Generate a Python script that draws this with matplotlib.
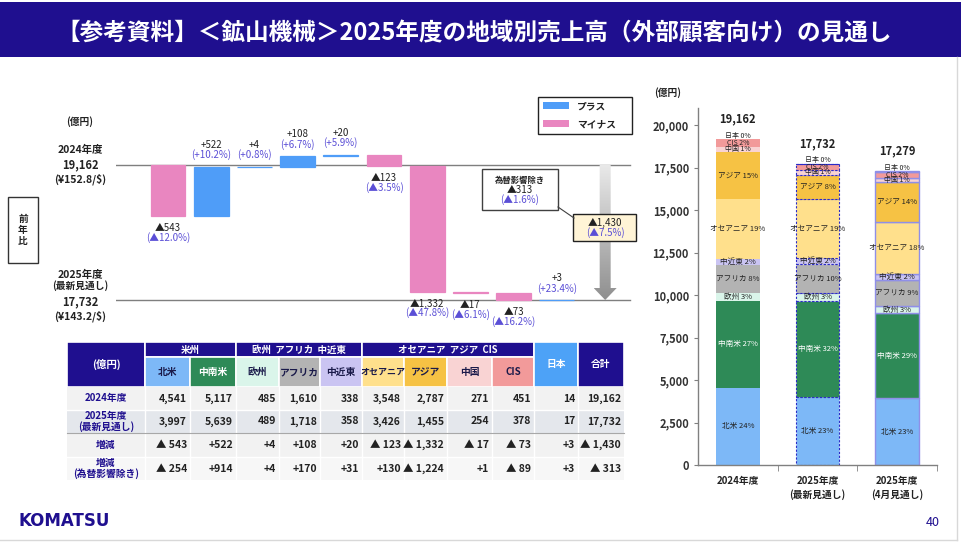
import numpy as np
import matplotlib
matplotlib.use('Agg')
import matplotlib.pyplot as plt
from matplotlib.patches import Rectangle, Polygon
from matplotlib.colors import LinearSegmentedColormap

plt.rcParams['font.family'] = ['Noto Sans CJK JP', 'DejaVu Sans']

# ---------------- data ----------------
regions = ['北米', '中南米', '欧州', 'アフリカ', '中近東', 'オセアニア', 'アジア', '中国', 'CIS', '日本']
group_names = ['米州', '欧州  アフリカ  中近東', 'オセアニア  アジア  CIS']
fy2024 = [4541, 5117, 485, 1610, 338, 3548, 2787, 271, 451, 14]
fy2025_latest = [3997, 5639, 489, 1718, 358, 3426, 1455, 254, 378, 17]
fy2025_april = [3940, 4990, 440, 1540, 330, 3040, 2380, 240, 360, 19]
diff = [-543, 522, 4, 108, 20, -123, -1332, -17, -73, 3]
diff_pct = [-12.0, 10.2, 0.8, 6.7, 5.9, -3.5, -47.8, -6.1, -16.2, 23.4]
diff_exfx = [-254, 914, 4, 170, 31, 130, -1224, 1, -89, 3]
total_2024 = 19162
total_2025 = 17732
total_april = 17279
total_diff = -1430
total_diff_pct = -7.5
total_diff_exfx = -313
total_diff_exfx_pct = -1.6
rate_2024 = '(¥152.8/$)'
rate_2025 = '(¥143.2/$)'
bar_categories = ['2024年度', '2025年度\n(最新見通し)', '2025年度\n(4月見通し)']
row_labels = ['2024年度', '2025年度\n(最新見通し)', '増減', '増減\n(為替影響除き)']
y_ticks = [0, 2500, 5000, 7500, 10000, 12500, 15000, 17500, 20000]
title = '【参考資料】＜鉱山機械＞2025年度の地域別売上高（外部顧客向け）の見通し'

# ---------------- styles ----------------
W, H = 961, 542
NAVY = '#1F0F8F'
PLUS = '#4F9DF8'
MINUS = '#E986C0'
PCT = '#5B4FD6'
reg_colors = ['#7DB8F7', '#2E8A57', '#DAF5EA', '#B3B3B3', '#CAC4F2',
              '#FFE08C', '#F6C244', '#F9D3D3', '#F29A9A', '#A9C8F5']


def fmt_signed(v, space=False):
    if v < 0:
        return '▲' + (' ' if space else '') + f'{-v:,}'
    return f'+{v:,}'


def fmt_pct(p):
    if p < 0:
        return f'(▲{-p:.1f}%)'
    return f'(+{p:.1f}%)'


fig = plt.figure(figsize=(W / 100, H / 100), dpi=100)
fig.patch.set_facecolor('white')


def px_axes(l, t, r, b):
    return fig.add_axes([l / W, 1 - b / H, (r - l) / W, (b - t) / H])


# ---------------- waterfall ----------------
axw = px_axes(116, 80, 640, 335)
k = (total_2024 - total_2025) / (300 - 165)
y_top = total_2024 + (165 - 80) * k
y_bot = total_2025 - (335 - 300) * k
x0px, sp = 168, 43.2
x_left = (116 - x0px) / sp
x_right = (640 - x0px) / sp
x_line_end = (630 - x0px) / sp

for yv in (total_2024, total_2025):
    axw.plot([x_left, x_line_end], [yv, yv], color='#7F7F7F', lw=1, zorder=1)

level = total_2024
for i, (d, p) in enumerate(zip(diff, diff_pct)):
    lo, hi = min(level, level + d), max(level, level + d)
    col = PLUS if d >= 0 else MINUS
    axw.bar(i, hi - lo, bottom=lo, width=0.81, color=col, edgecolor=col,
            linewidth=0.9, zorder=2)
    if d >= 0:
        axw.annotate(fmt_signed(d), (i, hi), xytext=(0, 22), textcoords='offset pixels',
                     ha='center', va='center', fontsize=7, color='#222222')
        axw.annotate(fmt_pct(p), (i, hi), xytext=(0, 12), textcoords='offset pixels',
                     ha='center', va='center', fontsize=7, color=PCT)
    else:
        axw.annotate(fmt_signed(d), (i, lo), xytext=(0, -12), textcoords='offset pixels',
                     ha='center', va='center', fontsize=7, color='#222222')
        axw.annotate(fmt_pct(p), (i, lo), xytext=(0, -21), textcoords='offset pixels',
                     ha='center', va='center', fontsize=7, color=PCT)
    level += d

# grey gradient arrow for the total change
xa = 10.12
hw_s, hw_h = 5.5 / sp, 11.5 / sp
head_len = 12 * k
verts = [(xa - hw_s, total_2024), (xa + hw_s, total_2024),
         (xa + hw_s, total_2025 + head_len), (xa + hw_h, total_2025 + head_len),
         (xa, total_2025), (xa - hw_h, total_2025 + head_len),
         (xa - hw_s, total_2025 + head_len)]
poly = Polygon(verts, closed=True, facecolor='none', edgecolor='none')
axw.add_patch(poly)
grad = np.linspace(0, 1, 256).reshape(-1, 1)
cmap = LinearSegmentedColormap.from_list('g', ['#8F8F8F', '#E9E9E9'])
im = axw.imshow(grad, extent=[xa - hw_h, xa + hw_h, total_2025, total_2024],
                origin='lower', cmap=cmap, aspect='auto', zorder=1)
im.set_clip_path(poly)
axw.set_xlim(x_left, x_right)
axw.set_ylim(y_bot, y_top)
axw.axis('off')

# ---------------- stacked bars ----------------
axb = px_axes(698, 108, 937, 465)
series = [fy2024, fy2025_latest, fy2025_april]
totals = [total_2024, total_2025, total_april]
edge_styles = [dict(edgecolor='none', linewidth=0),
               dict(edgecolor='#2B2BC8', linewidth=0.8, linestyle=(0, (2, 1.5))),
               dict(edgecolor='#8F8FE8', linewidth=1.0)]
bw = 0.55
small = ('中国', 'CIS', '日本')
for j, (vals, tot) in enumerate(zip(series, totals)):
    bottom = 0
    for r, (name, v) in enumerate(zip(regions, vals)):
        axb.bar(j, v, bottom=bottom, width=bw, color=reg_colors[r], zorder=2, **edge_styles[j])
        pct = int(v / tot * 100 + 0.5)
        txt = f'{name} {pct}%'
        if name == '日本':
            yl = bottom + v + 200
        else:
            yl = bottom + v / 2
        axb.text(j, yl, txt, ha='center', va='center', fontsize=5.0 if name in small else 5.5,
                 color='white' if name == '中南米' else '#222222', zorder=3)
        bottom += v
    axb.annotate(f'{tot:,}', (j, bottom), xytext=(0, 20), textcoords='offset pixels',
                 ha='center', va='center', fontsize=8, fontweight='bold', color='#222222')

axb.set_xlim(-0.5, 2.5)
axb.set_ylim(0, 21000)
for s in ('top', 'right'):
    axb.spines[s].set_visible(False)
for s in ('left', 'bottom'):
    axb.spines[s].set_color('#808080')
    axb.spines[s].set_linewidth(1)
axb.set_yticks(y_ticks)
axb.set_yticklabels([f'{t:,}' for t in y_ticks])
axb.tick_params(axis='y', labelsize=8, labelcolor='#333333', color='#808080', length=3)
for lab in axb.get_yticklabels():
    lab.set_fontweight('bold')
axb.set_xticks([0, 1, 2])
axb.set_xticklabels(bar_categories, fontsize=7, fontweight='bold', color='#222222', linespacing=1.4)
axb.set_xticks([0.5, 1.5, 2.5], minor=True)
axb.tick_params(axis='x', which='major', length=0, pad=8)
axb.tick_params(axis='x', which='minor', length=4, color='#808080')

# ---------------- overlay (text, boxes, table) ----------------
ov = fig.add_axes([0, 0, 1, 1])
ov.set_xlim(0, W)
ov.set_ylim(H, 0)
ov.axis('off')
ov.patch.set_alpha(0)

# title bar
ov.add_patch(Rectangle((0, 2), W, 55, facecolor=NAVY, edgecolor='none'))
ov.text(474, 33, title, ha='center', va='center', fontsize=17, fontweight='bold', color='white')

# frame lines
ov.plot([957, 957], [57, 540], color='#D8D8D8', lw=1)
ov.plot([0, 957], [540, 540], color='#D8D8D8', lw=1)

# left labels of waterfall
ov.text(80, 122, '(億円)', ha='center', va='center', fontsize=7, fontweight='bold', color='#222222')
ov.text(80, 150, '2024年度', ha='center', va='center', fontsize=7.5, fontweight='bold', color='#222222')
ov.text(80, 165, f'{total_2024:,}', ha='center', va='center', fontsize=8, fontweight='bold', color='#222222')
ov.text(80, 179, rate_2024, ha='center', va='center', fontsize=7.5, fontweight='bold', color='#222222')
ov.text(80, 275, '2025年度', ha='center', va='center', fontsize=7.5, fontweight='bold', color='#222222')
ov.text(80, 286, '(最新見通し)', ha='center', va='center', fontsize=7, fontweight='bold', color='#222222')
ov.text(80, 302, f'{total_2025:,}', ha='center', va='center', fontsize=8, fontweight='bold', color='#222222')
ov.text(80, 316, rate_2025, ha='center', va='center', fontsize=7.5, fontweight='bold', color='#222222')

ov.add_patch(Rectangle((8, 197), 30, 66, facecolor='white', edgecolor='#333333', lw=1))
ov.text(23, 230, '前\n年\n比', ha='center', va='center', fontsize=7, fontweight='bold',
        color='#222222', linespacing=1.1)

# legend
ov.add_patch(Rectangle((538, 97), 94, 37, facecolor='white', edgecolor='#222222', lw=1))
ov.add_patch(Rectangle((543, 102), 26, 7, facecolor=PLUS, edgecolor='none'))
ov.add_patch(Rectangle((543, 120), 26, 7, facecolor=MINUS, edgecolor='none'))
ov.text(577, 106, 'プラス', ha='left', va='center', fontsize=7, fontweight='bold', color='#222222')
ov.text(577, 124, 'マイナス', ha='left', va='center', fontsize=7, fontweight='bold', color='#222222')

# FX-excluded annotation box
ov.add_patch(Rectangle((482, 169), 76, 41, facecolor='white', edgecolor='#404040', lw=1))
ov.text(520, 180, '為替影響除き', ha='center', va='center', fontsize=6, fontweight='bold', color='#222222')
ov.text(520, 190, fmt_signed(total_diff_exfx), ha='center', va='center', fontsize=7, color='#222222')
ov.text(520, 200, fmt_pct(total_diff_exfx_pct), ha='center', va='center', fontsize=7, color=PCT)
ov.plot([558, 574], [207, 218], color='#404040', lw=0.8)

# total change box
ov.add_patch(Rectangle((573, 214), 63, 27, facecolor='#FFF4D6', edgecolor='#222222', lw=1))
ov.text(605, 223, fmt_signed(total_diff), ha='center', va='center', fontsize=7, color='#222222')
ov.text(605, 233, fmt_pct(total_diff_pct), ha='center', va='center', fontsize=7, color=PCT)

# right chart unit
ov.text(668, 93, '(億円)', ha='center', va='center', fontsize=7, fontweight='bold', color='#222222')

# ---------------- table ----------------
col_x = [67, 145, 190, 236, 279, 320, 362, 404, 447, 492, 534, 578, 624]
row_y = [342, 357, 387, 410, 433, 457, 480]


def cell(x0, x1, y0, y1, fc, ec='white', lw=1.2):
    ov.add_patch(Rectangle((x0, y0), x1 - x0, y1 - y0, facecolor=fc, edgecolor=ec, lw=lw))


# header
cell(col_x[0], col_x[1], row_y[0], row_y[2], NAVY)
ov.text((col_x[0] + col_x[1]) / 2, (row_y[0] + row_y[2]) / 2, '(億円)', ha='center', va='center',
        fontsize=7.5, fontweight='bold', color='white')
spans = [(1, 3), (3, 6), (6, 10)]
for (a, b), name in zip(spans, group_names):
    cell(col_x[a], col_x[b], row_y[0], row_y[1], NAVY)
    ov.text((col_x[a] + col_x[b]) / 2, (row_y[0] + row_y[1]) / 2, name, ha='center', va='center',
            fontsize=6.8, fontweight='bold', color='white')
for r in range(9):
    cell(col_x[r + 1], col_x[r + 2], row_y[1], row_y[2], reg_colors[r])
    ov.text((col_x[r + 1] + col_x[r + 2]) / 2, (row_y[1] + row_y[2]) / 2, regions[r],
            ha='center', va='center', fontsize=7 if len(regions[r]) < 5 else 6.5, fontweight='bold',
            color='white' if regions[r] == '中南米' else '#1A1A4A')
cell(col_x[10], col_x[11], row_y[0], row_y[2], '#4DA2F7')
ov.text((col_x[10] + col_x[11]) / 2, (row_y[0] + row_y[2]) / 2, '日本', ha='center', va='center',
        fontsize=7, fontweight='bold', color='white')
cell(col_x[11], col_x[12], row_y[0], row_y[2], NAVY)
ov.text((col_x[11] + col_x[12]) / 2, (row_y[0] + row_y[2]) / 2, '合計', ha='center', va='center',
        fontsize=7, fontweight='bold', color='white')

# body
table_rows = [fy2024 + [total_2024], fy2025_latest + [total_2025],
              diff + [total_diff], diff_exfx + [total_diff_exfx]]
row_bg = ['#F2F2F2', '#E4E7EC', '#F2F2F2', '#F7F7F7']
for ri, (lab, vals) in enumerate(zip(row_labels, table_rows)):
    y0, y1 = row_y[ri + 2], row_y[ri + 3]
    yc = (y0 + y1) / 2
    cell(col_x[0], col_x[-1], y0, y1, row_bg[ri], ec='none', lw=0)
    ov.text((col_x[0] + col_x[1]) / 2, yc, lab, ha='center', va='center', fontsize=7,
            fontweight='bold', color=NAVY, linespacing=1.05)
    for ci, v in enumerate(vals):
        s = f'{v:,}' if ri < 2 else fmt_signed(v, space=True)
        ov.text(col_x[ci + 2] - 3, yc, s, ha='right', va='center', fontsize=7.5,
                fontweight='bold', color='#222222')
    for x in col_x[1:-1]:
        ov.plot([x, x], [y0, y1], color='white', lw=1)
ov.plot([col_x[0], col_x[-1]], [row_y[4], row_y[4]], color='#A8A8A8', lw=0.8)
ov.plot([col_x[0], col_x[-1]], [row_y[3], row_y[3]], color='white', lw=1)
ov.plot([col_x[0], col_x[-1]], [row_y[5], row_y[5]], color='white', lw=1)

# footer
ov.text(18, 521, 'KOMATSU', ha='left', va='center', fontsize=12, fontweight='heavy',
        color=NAVY, family='DejaVu Sans')
ov.text(933, 522, '40', ha='center', va='center', fontsize=9, color=NAVY)

fig.savefig('out.png', dpi=100)
